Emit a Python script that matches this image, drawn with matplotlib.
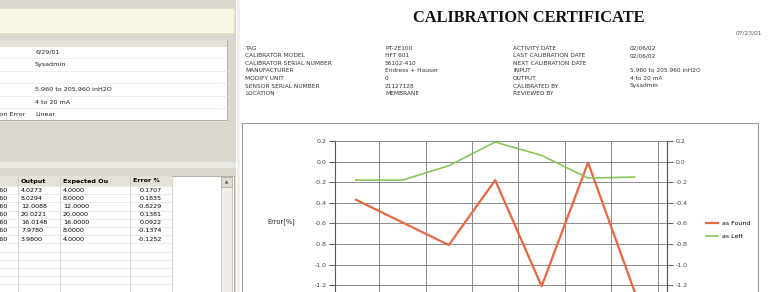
import matplotlib
matplotlib.use('Agg')
import matplotlib.pyplot as plt
from matplotlib.patches import Rectangle

W, H = 774, 292

# chart data
points = [0, 1, 2, 3, 4, 5, 6]
as_found = [-0.37, -0.59, -0.81, -0.18, -1.21, -0.01, -1.26]
as_left = [-0.18, -0.18, -0.04, 0.19, 0.06, -0.16, -0.15]
y_ticks = [0.2, 0.0, -0.2, -0.4, -0.6, -0.8, -1.0, -1.2, -1.4, -1.6, -1.8, -2.0]
y_labels = ['0.2', '0.0', '-0.2', '-0.4', '-0.6', '-0.8', '-1.0', '-1.2', '-1.4', '-1.6', '-1.8', '-2.0']

# left panel data (panel is scrolled, so labels are partly hidden)
prop_labels = ['Date', 'Calibrated By', 'Note', 'Input', 'Output', 'Max Calibration Error']
prop_values = ['6/29/01', 'Sysadmin', '', '5.960 to 205.960 inH2O', '4 to 20 mA', 'Linear']
tbl_input = ['5.960', '55.960', '105.960', '205.960', '155.960', '55.960', '5.960']
tbl_output = ['4.0273', '8.0294', '12.0088', '20.0221', '16.0148', '7.9780', '3.9800']
tbl_expected = ['4.0000', '8.0000', '12.0000', '20.0000', '16.0000', '8.0000', '4.0000']
tbl_error = ['0.1707', '0.1835', '-0.8229', '0.1381', '0.0922', '-0.1374', '-0.1252']

# certificate header
cert_lab1 = ['TAG', 'CALIBRATOR MODEL', 'CALIBRATOR SERIAL NUMBER', 'MANUFACTURER',
             'MODIFY UNIT', 'SENSOR SERIAL NUMBER', 'LOCATION']
cert_val1 = ['PT-2E100', 'HFT 601', '56102-410', 'Endress + Hauser', '0', '21127128', 'MEMBRANE']
cert_lab2 = ['ACTIVITY DATE', 'LAST CALIBRATION DATE', 'NEXT CALIBRATION DATE', 'INPUT',
             'OUTPUT', 'CALIBRATED BY', 'REVIEWED BY']
cert_val2 = ['02/06/02', '02/06/02', '', '5.960 to 205.960 inH2O', '4 to 20 mA', 'Sysadmin', '']

fig = plt.figure(figsize=(W / 100, H / 100), dpi=100)
fig.patch.set_facecolor('white')

# background layer in pixel coords
bg = fig.add_axes([0, 0, 1, 1])
bg.set_xlim(0, W)
bg.set_ylim(H, 0)
bg.axis('off')

def box(x, y, w, h, fc, ec='none', lw=0.6):
    bg.add_patch(Rectangle((x, y), w, h, facecolor=fc, edgecolor=ec, linewidth=lw))

# left application panel
box(0, 0, 236, H, '#dad7cf')
box(-2, 8, 236, 25, '#f8f6e4', '#e2dfc8')
box(-2, 40, 229, 80, 'white', '#a8a59c')
box(-2, 40, 229, 7, '#e6e3da')
for i, (lab, val) in enumerate(zip(prop_labels, prop_values)):
    y = 52 + i * 12.5
    bg.text(-43, y, lab, fontsize=4.6, ha='left', va='center', color='#222222')
    bg.text(35, y, val, fontsize=4.6, ha='left', va='center', color='#222222')
    bg.plot([-2, 227], [y + 6, y + 6], color='#ebe9e3', lw=0.5)

# results table
box(-2, 162, 238, 6, '#e9e7e1')
box(-2, 176, 236, H - 176, 'white', '#a8a59c')
box(-2, 176, 174, 10, '#e4e1d8')
cols = [18, 60, 130, 172]
for x in cols:
    bg.plot([x, x], [176, H], color='#c9c6bd', lw=0.5)
for k in range(14):
    y = 186 + k * 8.2
    bg.plot([-2, 172], [y, y], color='#dcdad4', lw=0.4)
bg.text(21, 181, 'Output', fontsize=4.6, fontweight='bold', va='center')
bg.text(63, 181, 'Expected Ou', fontsize=4.6, fontweight='bold', va='center')
bg.text(133, 181, 'Error %', fontsize=4.6, fontweight='bold', va='center')
for i in range(len(tbl_output)):
    y = 190 + i * 8.2
    bg.text(8, y, tbl_input[i], fontsize=4.6, ha='right', va='center')
    bg.text(21, y, tbl_output[i], fontsize=4.6, ha='left', va='center')
    bg.text(63, y, tbl_expected[i], fontsize=4.6, ha='left', va='center')
    bg.text(162, y, tbl_error[i], fontsize=4.6, ha='right', va='center')
box(221, 177, 11, H - 177, '#eeede8', '#c8c5bc')
box(221, 177, 11, 10, '#dedbd2', '#b0ada4')
bg.text(226.5, 182, '\u25b2', fontsize=3, ha='center', va='center', color='#444444')

# certificate page
box(237, 0, 3, H, '#f0efeb')
bg.text(529, 18, 'CALIBRATION CERTIFICATE', fontsize=11.8, fontweight='bold',
        family='Liberation Serif', ha='center', va='center', color='#111111')
bg.text(762, 33, '07/23/01', fontsize=4.2, ha='right', va='center', color='#555555')
for i in range(len(cert_lab1)):
    y = 48 + i * 7.6
    bg.text(245, y, cert_lab1[i], fontsize=4.2, va='center', color='#333333')
    bg.text(385, y, cert_val1[i], fontsize=4.2, va='center', color='#333333')
    bg.text(513, y, cert_lab2[i], fontsize=4.2, va='center', color='#333333')
    bg.text(630, y, cert_val2[i], fontsize=4.2, va='center', color='#333333')

box(242, 123, 516, 200, 'white', '#9a9a9a', lw=0.8)
bg.text(281, 222, 'Error[%]', fontsize=4.8, ha='center', va='center', color='#222222')

# chart axes, positioned in pixels (y from 0.2 at 141px down below the frame)
left, right, top, bottom = 335, 667, 141, 141 + 2.2 / 0.2 * 20.6
ax = fig.add_axes([left / W, 1 - bottom / H, (right - left) / W, (bottom - top) / H])
ax.set_facecolor('none')
ax.plot(points, as_found, color='#e8673f', lw=1.6, label='as Found')
ax.plot(points, as_left, color='#8cc45c', lw=1.2, label='as Left')
ax.set_xlim(-0.45, 6.7)
ax.set_ylim(-2.0, 0.2)
ax.set_yticks(y_ticks)
ax.set_yticklabels(y_labels)
ax.set_xticks([0.5, 1.5, 2.5, 3.5, 4.5, 5.5, 6.5])
ax.tick_params(axis='x', length=0, labelbottom=False)
ax.tick_params(axis='y', labelsize=4.5, length=4, width=0.6, colors='#444444', pad=2)
ax.grid(True, color='#8a8a8a', lw=0.7)
for s in ['top', 'bottom']:
    ax.spines[s].set_visible(False)
ax.spines['left'].set_color('#555555')
ax.spines['right'].set_color('#555555')

ax2 = ax.twinx()
ax2.set_ylim(-2.0, 0.2)
ax2.set_yticks(y_ticks)
ax2.set_yticklabels(y_labels)
ax2.tick_params(axis='y', labelsize=4.5, length=4, width=0.6, colors='#444444', pad=2)
for s in ['top', 'bottom', 'left']:
    ax2.spines[s].set_visible(False)
ax2.spines['right'].set_color('#555555')

ax.legend(loc='center left', bbox_to_anchor=(700 / W, 1 - 230 / H),
          bbox_transform=fig.transFigure, frameon=False, fontsize=4.5,
          handlelength=2.0, labelspacing=1.2, handletextpad=0.6)

fig.savefig('out.png', dpi=100, facecolor=fig.get_facecolor())
